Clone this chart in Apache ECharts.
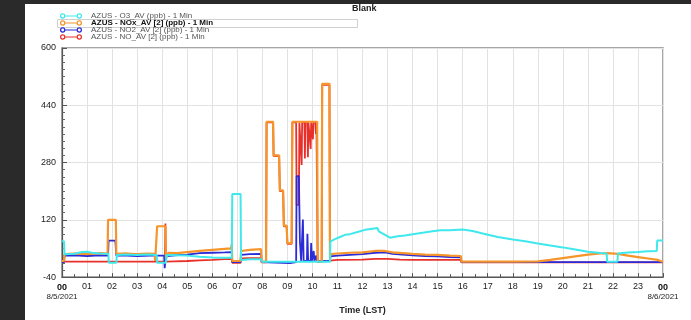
<!DOCTYPE html>
<html>
<head>
<meta charset="utf-8">
<script src="https://cdn.jsdelivr.net/npm/echarts@6/dist/echarts.min.js"></script>
<style>
html,body{margin:0;padding:0;width:691px;height:320px;background:#2a2a2a;overflow:hidden;}
#chart{position:absolute;left:25px;top:4px;width:666px;height:316px;background:#ffffff;}
</style>
</head>
<body>
<div id="chart"></div>
<script>
// ---- data (hour of day, value in ppb) ----
const seriesNames = [
  'AZUS - O3_AV (ppb) - 1 Min',
  'AZUS - NOx_AV [2] (ppb) - 1 Min',
  'AZUS - NO2_AV [2] (ppb) - 1 Min',
  'AZUS - NO_AV [2] (ppb) - 1 Min'
];
const hourTicks = ['00','01','02','03','04','05','06','07','08','09','10','11','12','13','14','15','16','17','18','19','20','21','22','23','00'];
const startDate = '8/5/2021';
const endDate = '8/6/2021';
const yTicks = [-40, 120, 280, 440, 600];

const o3Data = [[0,60],[0.08,60],[0.1,24],[0.5,25],[0.8,30],[1.0,31],[1.2,28],[1.5,26],[1.85,25],[1.87,0],[2.17,0],[2.19,22],[2.6,23],[3.0,22],[3.4,23],[3.78,22],[3.8,0],[4.15,0],[4.17,22],[4.6,21],[5.0,20],[5.5,17],[6.0,15],[6.5,14],[6.78,14],[6.8,192],[7.13,192],[7.15,8],[7.5,10],[7.95,10],[8.0,3],[9.0,3],[10.0,3],[10.7,3],[10.72,60],[10.9,66],[11.1,72],[11.3,78],[11.5,80],[11.8,86],[12.1,92],[12.4,95],[12.6,97],[12.65,88],[12.9,78],[13.1,70],[13.4,74],[13.7,76],[14.0,80],[14.4,84],[14.8,88],[15.1,91],[15.5,91],[16.0,93],[16.4,89],[16.8,82],[17.4,72],[18.0,65],[18.5,60],[19.0,54],[19.5,48],[20.0,43],[20.5,37],[21.0,31],[21.5,27],[21.75,26],[21.77,3],[22.18,3],[22.2,26],[22.6,29],[23.0,30],[23.4,32],[23.75,33],[23.77,62],[24,62]];

const noxData = [[0,5],[0.08,5],[0.1,24],[0.5,26],[1.0,24],[1.5,27],[1.82,26],[1.84,120],[2.15,120],[2.17,25],[2.6,26],[3.0,24],[3.4,26],[3.7,25],[3.72,5],[3.78,5],[3.8,102],[4.13,102],[4.15,12],[4.25,28],[4.6,27],[5.0,30],[5.5,33],[6.0,36],[6.5,39],[6.75,40],[6.78,52],[6.8,5],[7.13,5],[7.15,33],[7.5,36],[7.95,38],[7.97,3],[8.15,3],[8.17,394],[8.43,394],[8.45,300],[8.67,300],[8.7,202],[8.83,202],[8.86,104],[8.97,104],[9.0,55],[9.17,55],[9.2,394],[10.19,394],[10.21,3],[10.37,3],[10.39,500],[10.68,500],[10.7,10],[10.72,24],[11.0,26],[11.5,28],[12.0,29],[12.5,33],[12.9,33],[13.2,29],[13.6,27],[14.0,25],[14.5,23],[15.0,22],[15.5,20],[15.93,19],[15.95,3],[17,3],[18,3],[19,4],[19.5,8],[20,13],[20.5,18],[21,23],[21.5,26],[21.8,27],[22.2,25],[22.6,20],[23,16],[23.4,12],[23.8,8],[24,2]];

const no2Data = [[0,2],[0.08,2],[0.1,20],[0.5,21],[1.0,19],[1.5,21],[1.84,20],[1.86,62],[2.13,62],[2.17,20],[2.6,20],[3.0,19],[3.5,20],[4.08,20],[4.1,-15],[4.15,18],[4.5,21],[5.0,23],[5.5,27],[6.0,28],[6.5,29],[6.78,30],[6.8,2],[7.13,2],[7.15,22],[7.5,24],[7.95,25],[7.97,2],[9.1,-1],[9.35,2],[9.37,242],[9.46,242],[9.5,60],[9.55,5],[9.6,5],[9.62,121],[9.65,5],[9.78,5],[9.8,81],[9.83,5],[9.93,5],[9.95,55],[9.98,5],[10.03,5],[10.05,33],[10.08,5],[10.13,5],[10.15,20],[10.18,5],[10.4,5],[10.7,5],[10.72,18],[11,20],[11.5,22],[12,24],[12.5,28],[12.9,29],[13.2,25],[13.6,23],[14,21],[14.5,19],[15,18],[15.5,16],[15.93,15],[15.95,2],[24,2]];

const noData = [[0,3],[1.84,3],[2.15,3],[3.8,3],[4.11,3],[4.13,110],[4.15,3],[4.5,4],[5,5],[5.5,7],[6,8],[6.5,10],[6.78,11],[6.8,0],[7.13,0],[7.15,12],[7.5,13],[7.95,13],[7.97,1],[8.15,1],[8.17,392],[8.43,392],[8.45,298],[8.67,298],[8.7,200],[8.83,200],[8.86,102],[8.97,102],[9.0,53],[9.17,53],[9.2,392],[9.35,392],[9.37,162],[9.46,162],[9.48,392],[9.55,392],[9.57,273],[9.59,392],[9.68,392],[9.7,291],[9.72,392],[9.8,392],[9.82,295],[9.84,392],[9.91,392],[9.93,318],[9.95,392],[10.0,392],[10.02,345],[10.04,392],[10.12,392],[10.14,360],[10.16,392],[10.19,392],[10.21,2],[10.37,2],[10.39,497],[10.68,497],[10.7,6],[11,8],[12,9],[12.5,11],[13,11],[13.5,9],[14,8],[15,8],[15.93,8],[15.95,1],[24,1]];

const colors = ['#3ee8ec', '#f5952a', '#2b2bd8', '#e8302a'];

const iconPath = 'path://M0.4,3 A2.6,2.6 0 1,1 5.6,3 A2.6,2.6 0 1,1 0.4,3 Z M1.6,3 A1.4,1.4 0 1,0 4.4,3 A1.4,1.4 0 1,0 1.6,3 Z M5.6,2.4 L16.4,2.4 L16.4,3.6 L5.6,3.6 Z M16.4,3 A2.6,2.6 0 1,1 21.6,3 A2.6,2.6 0 1,1 16.4,3 Z M17.6,3 A1.4,1.4 0 1,0 20.4,3 A1.4,1.4 0 1,0 17.6,3 Z';

const chart = echarts.init(document.getElementById('chart'), null, {renderer: 'canvas'});

function mkSeries(idx, data, width) {
  return {
    name: seriesNames[idx],
    type: 'line',
    data: data,
    showSymbol: false,
    symbol: 'none',
    animation: false,
    color: colors[idx],
    lineStyle: {color: colors[idx], width: width},
    itemStyle: {color: colors[idx]},
    emphasis: {disabled: true}
  };
}

chart.setOption({
  animation: false,
  backgroundColor: '#ffffff',
  title: {
    text: 'Blank',
    left: 327, top: 0,
    padding: 0,
    textStyle: {fontFamily: 'Liberation Sans, Arial', fontSize: 9, fontWeight: 'bold', color: '#222'}
  },
  graphic: [{
    type: 'rect',
    shape: {x: 32.5, y: 15.5, width: 300, height: 8},
    style: {fill: 'none', stroke: '#d0d0d0', lineWidth: 1},
    z: 0
  }],
  legend: {
    orient: 'vertical',
    left: 35, top: 8,
    padding: 0,
    itemGap: -1,
    itemWidth: 22,
    itemHeight: 6,
    selectedMode: false,
    icon: iconPath,
    itemStyle: {borderWidth: 0},
    textStyle: {fontFamily: 'Liberation Sans, Arial', fontSize: 8, color: '#555', lineHeight: 7, padding: [0,0,0,4]},
    data: [
      {name: seriesNames[0]},
      {name: seriesNames[1], textStyle: {fontWeight: 'bold', color: '#111'}},
      {name: seriesNames[2]},
      {name: seriesNames[3]}
    ]
  },
  grid: {
    left: 37, top: 44, right: 28, bottom: 33,
    show: true, borderColor: '#8a8a8a', borderWidth: 1.5,
    containLabel: false
  },
  xAxis: {
    type: 'value',
    min: 0, max: 24, interval: 1,
    name: 'Time (LST)',
    nameLocation: 'middle',
    nameGap: 23,
    nameTextStyle: {fontFamily: 'Liberation Sans, Arial', fontSize: 9, fontWeight: 'bold', color: '#222'},
    axisLine: {onZero: false, lineStyle: {color: '#555', width: 1.2}},
    axisTick: {inside: true, length: 4, lineStyle: {color: '#555'}},
    minorTick: {show: true, splitNumber: 2, length: 3, lineStyle: {color: '#555'}},
    splitLine: {show: true, lineStyle: {color: '#e2e2e2', width: 1}},
    axisLabel: {
      margin: 5,
      fontFamily: 'Liberation Sans, Arial', fontSize: 9, color: '#222',
      formatter: function (v) {
        const i = Math.round(v);
        if (i === 0) return '{b|' + hourTicks[0] + '}\n{d|' + startDate + '}';
        if (i === 24) return '{b|' + hourTicks[24] + '}\n{d|' + endDate + '}';
        return hourTicks[i];
      },
      rich: {
        b: {fontFamily: 'Liberation Sans, Arial', fontSize: 9, fontWeight: 'bold', color: '#111', lineHeight: 10},
        d: {fontFamily: 'Liberation Sans, Arial', fontSize: 8, color: '#222', lineHeight: 10}
      }
    }
  },
  yAxis: {
    type: 'value',
    min: yTicks[0], max: yTicks[yTicks.length - 1], interval: 160,
    axisLine: {show: true, lineStyle: {color: '#555', width: 1.2}},
    axisTick: {show: true, inside: true, length: 5, lineStyle: {color: '#555'}},
    minorTick: {show: true, splitNumber: 8, length: 3, lineStyle: {color: '#666'}},
    splitLine: {show: true, lineStyle: {color: '#e2e2e2', width: 1}},
    axisLabel: {margin: 6, fontFamily: 'Liberation Sans, Arial', fontSize: 9, color: '#222'}
  },
  series: [
    mkSeries(3, noData, 1.8),
    mkSeries(2, no2Data, 1.8),
    mkSeries(1, noxData, 2.2),
    mkSeries(0, o3Data, 2)
  ]
});
</script>
</body>
</html>
